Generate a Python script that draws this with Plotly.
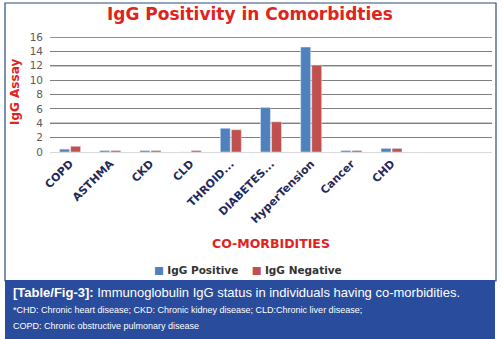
import plotly.graph_objects as go

# Comorbidity categories and IgG assay counts
categories = ["COPD", "ASTHMA", "CKD", "CLD", "THROID...", "DIABETES...",
              "HyperTension", "Cancer", "CHD"]
igg_positive = [0.4, 0.2, 0.2, 0.0, 3.3, 6.2, 14.6, 0.2, 0.5]
igg_negative = [0.8, 0.2, 0.2, 0.2, 3.1, 4.2, 12.1, 0.2, 0.5]
y_ticks = [0, 2, 4, 6, 8, 10, 12, 14, 16]

BLUE = "#4F81BD"
RED = "#C0504D"
TITLE_RED = "#E0231C"
NAVY = "#1F2A5C"
BOX_BLUE = "#2A4C9C"

series = [("IgG Positive", igg_positive, BLUE),
          ("IgG Negative", igg_negative, RED)]

fig = go.Figure()
for name, vals, col in series:
    fig.add_trace(go.Bar(name=name, x=categories, y=vals, marker_color=col))

# plot area in pixels: x 50..492, y 37..152
L, R, T, B = 50, 11, 37, 187
W, H = 503 - L - R, 339 - T - B


def px(xpix):
    return (xpix - L) / W


def py(ypix):
    return (339 - B - ypix) / H


fig.update_layout(
    width=503, height=339,
    margin=dict(l=L, r=R, t=T, b=B, autoexpand=False),
    paper_bgcolor="white", plot_bgcolor="white",
    barmode="group", bargap=0.45, bargroupgap=0.1,
    showlegend=False,
    font=dict(family="DejaVu Sans", color="#595959"),
    title=dict(text="IgG Positivity in Comorbidties",
               font=dict(size=17, color=TITLE_RED, family="DejaVu Sans",
                         weight="bold"),
               x=0.497, xref="container", xanchor="center",
               y=1 - 14 / 339, yref="container", yanchor="middle"),
    xaxis=dict(type="category", range=[-0.5, 10.5], tickangle=-45,
               tickfont=dict(size=11, color=NAVY, family="DejaVu Sans",
                             weight="bold"),
               showline=True, linecolor="#D9D9D9", linewidth=1,
               ticks="", showgrid=False, automargin=False,
               title=dict(text="CO-MORBIDITIES",
                          font=dict(size=12.5, color=TITLE_RED, weight="bold"),
                          standoff=14)),
    yaxis=dict(range=[0, 16], tickvals=y_ticks, showgrid=True,
               gridcolor="#7F7F7F", gridwidth=1, zeroline=False,
               tickfont=dict(size=10.5, color="#595959"),
               ticklabelstandoff=6, automargin=False),
)

# darker gridlines on every other tick, beneath the bars
for v in y_ticks:
    if v > 0 and v % 4 == 0:
        fig.add_shape(type="line", xref="paper", yref="y", x0=0, x1=1,
                      y0=v, y1=v, line=dict(color="#262626", width=1),
                      layer="between")

# y-axis title
fig.add_annotation(text="IgG Assay", textangle=-90,
                   xref="paper", yref="paper", x=px(15), y=py(92),
                   xanchor="center", yanchor="middle",
                   showarrow=False,
                   font=dict(size=12, color=TITLE_RED, family="DejaVu Sans",
                             weight="bold"))

# legend row: coloured squares followed by series names
legend_text = "    ".join(
    f"<span style='color:{col}'>■</span> <b>{name}</b>" for name, _, col in series)
fig.add_annotation(text=legend_text, xref="paper", yref="paper",
                   x=px(248), y=py(270), xanchor="center", yanchor="middle",
                   showarrow=False,
                   font=dict(size=10.5, color="#333333", family="DejaVu Sans"))

# outer frame and caption box
fig.add_shape(type="rect", xref="paper", yref="paper",
              x0=px(5), x1=px(496), y0=py(281), y1=py(3),
              line=dict(color="#2E4A78", width=1.2), layer="below")
fig.add_shape(type="rect", xref="paper", yref="paper",
              x0=px(5), x1=px(495), y0=py(339), y1=py(280),
              fillcolor=BOX_BLUE, line=dict(width=0), layer="below")

cap_font = "Liberation Sans"
fig.add_annotation(text="<b>[Table/Fig-3]:</b> Immunoglobulin IgG status in individuals having co-morbidities.",
                   xref="paper", yref="paper", x=px(11), y=py(292),
                   xanchor="left", yanchor="middle", showarrow=False,
                   font=dict(size=13, color="white", family=cap_font))
fig.add_annotation(text="*CHD: Chronic heart disease; CKD: Chronic kidney disease; CLD:Chronic liver disease;",
                   xref="paper", yref="paper", x=px(11), y=py(310),
                   xanchor="left", yanchor="middle", showarrow=False,
                   font=dict(size=9, color="white", family=cap_font))
fig.add_annotation(text="COPD: Chronic obstructive pulmonary disease",
                   xref="paper", yref="paper", x=px(11), y=py(326),
                   xanchor="left", yanchor="middle", showarrow=False,
                   font=dict(size=9, color="white", family=cap_font))

fig.write_html("out.html")
